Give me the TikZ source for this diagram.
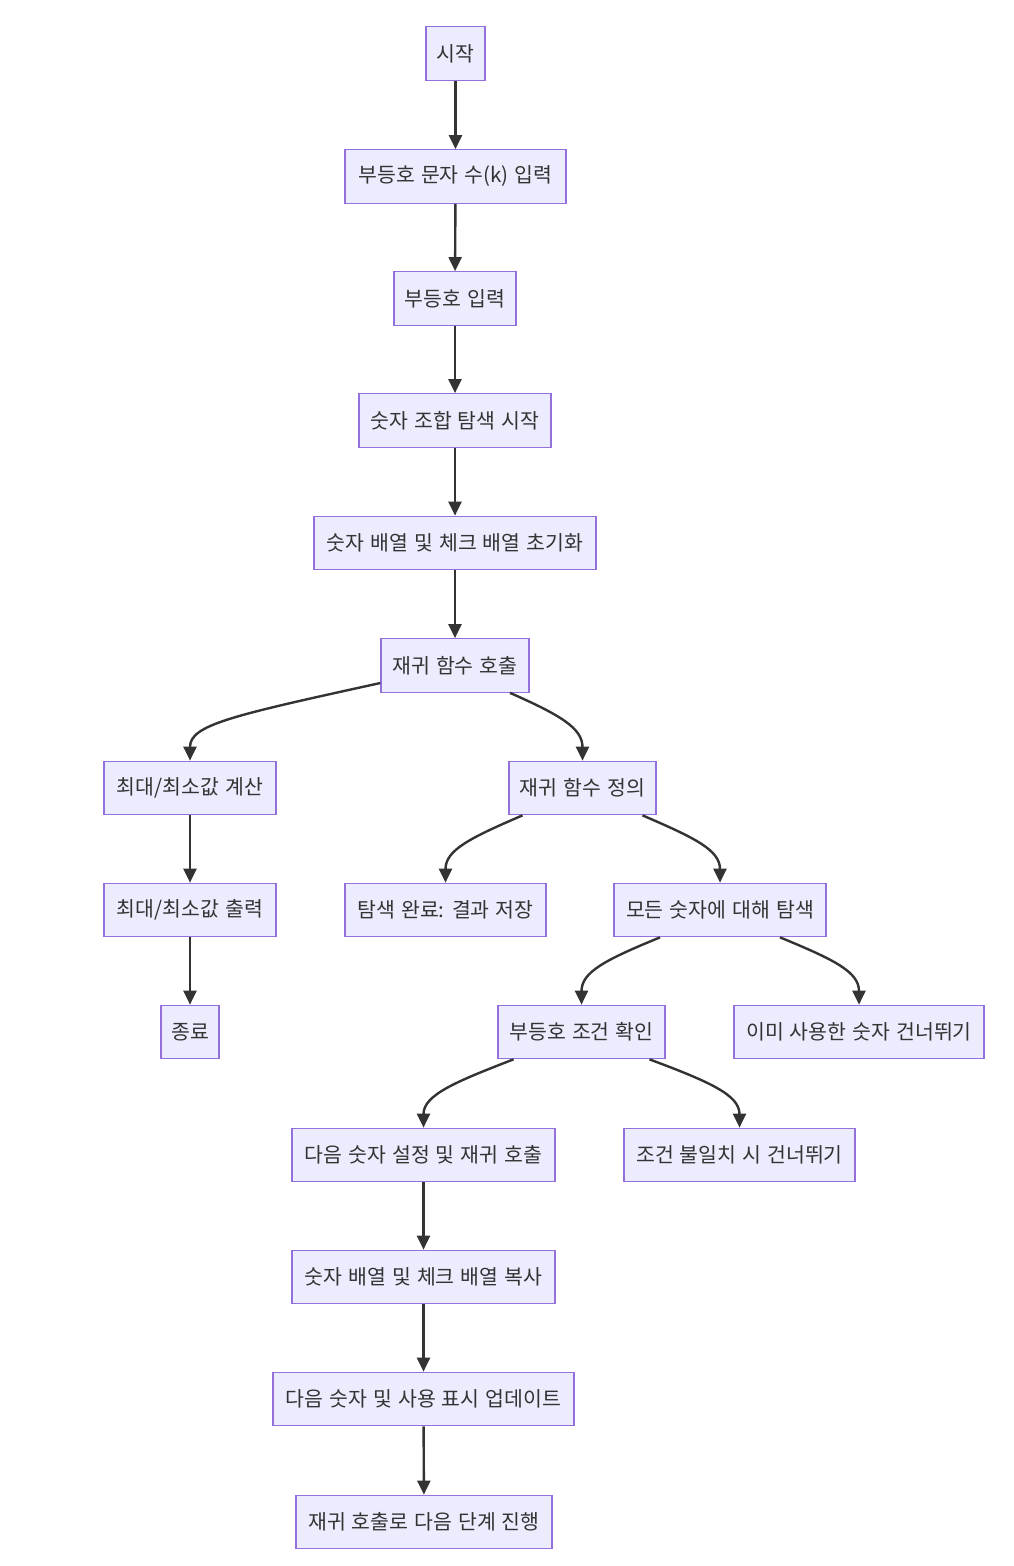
\documentclass[tikz,border=0pt]{standalone}
\usepackage{fontspec}
\setmainfont{Noto Sans CJK KR}
\usepackage{tikz}
\usetikzlibrary{positioning,arrows.meta}
\definecolor{boxfill}{HTML}{ECECFF}
\definecolor{boxline}{HTML}{9370DB}
\definecolor{edgeline}{HTML}{333333}
\newcommand{\blockfont}{\fontsize{20.5}{24}\selectfont\spaceskip=6pt plus 1pt\relax}
\begin{document}
\begin{tikzpicture}[x=1pt,y=-1pt,
    block/.style={rectangle, draw=boxline, fill=boxfill, line width=1.2pt, minimum height=53.5pt, inner xsep=10pt, text=edgeline, font=\blockfont},
    flow/.style={draw=edgeline, line width=2.4pt, -{Triangle[length=14pt,width=13pt]}}]
    \useasboundingbox (0,0) rectangle (1014,1566);
    \node[block, minimum width=59pt] (start) at (455.5,53.5) {시작};
    \node[block, minimum width=221pt] (readk) at (455.5,176.5) {부등호 문자 수(k) 입력};
    \node[block, minimum width=122pt] (readsign) at (455,298.5) {부등호 입력};
    \node[block, minimum width=192pt] (search) at (455,420.5) {숫자 조합 탐색 시작};
    \node[block, minimum width=282pt] (init) at (455,543) {숫자 배열 및 체크 배열 초기화};
    \node[block, minimum width=148pt] (call) at (455,665.5) {재귀 함수 호출};
    \node[block, minimum width=172pt] (minmax) at (190,788) {최대/최소값 계산};
    \node[block, minimum width=147pt] (define) at (582.5,788) {재귀 함수 정의};
    \node[block, minimum width=172pt] (print) at (190,910) {최대/최소값 출력};
    \node[block, minimum width=201pt] (done) at (445.5,910) {탐색 완료: 결과 저장};
    \node[block, minimum width=212pt] (every) at (720,910) {모든 숫자에 대해 탐색};
    \node[block, minimum width=58pt] (stop) at (190,1032) {종료};
    \node[block, minimum width=167pt] (check) at (581.5,1032) {부등호 조건 확인};
    \node[block, minimum width=250pt] (used) at (859,1032) {이미 사용한 숫자 건너뛰기};
    \node[block, minimum width=263pt] (next) at (423.5,1155) {다음 숫자 설정 및 재귀 호출};
    \node[block, minimum width=231pt] (fail) at (739.5,1155) {조건 불일치 시 건너뛰기};
    \node[block, minimum width=263pt] (copy) at (423.5,1277) {숫자 배열 및 체크 배열 복사};
    \node[block, minimum width=301pt] (update) at (423.5,1399) {다음 숫자 및 사용 표시 업데이트};
    \node[block, minimum width=256pt] (recurse) at (424,1522) {재귀 호출로 다음 단계 진행};
    % straight edges
    \draw[flow] (start) -- (readk);
    \draw[flow] (readk) -- (readsign);
    \draw[flow] (readsign) -- (search);
    \draw[flow] (search) -- (init);
    \draw[flow] (init) -- (call);
    \draw[flow] (minmax) -- (print);
    \draw[flow] (print) -- (stop);
    \draw[flow] (next) -- (copy);
    \draw[flow] (copy) -- (update);
    \draw[flow] (update) -- (recurse);
    % curved edges
    \draw[flow] ([yshift=-17.5pt]call.west) .. controls (230,716) and (190,725) .. (minmax.north);
    \draw[flow] ([xshift=55pt]call.south) .. controls (560,715) and (582.5,728) .. (define.north);
    \draw[flow] ([xshift=-60pt]define.south) .. controls (470,838) and (445.5,850) .. (done.north);
    \draw[flow] ([xshift=60pt]define.south) .. controls (695,838) and (720,850) .. (every.north);
    \draw[flow] ([xshift=-60pt]every.south) .. controls (605,960) and (581.5,972) .. (check.north);
    \draw[flow] ([xshift=60pt]every.south) .. controls (835,960) and (859,972) .. (used.north);
    \draw[flow] ([xshift=-68pt]check.south) .. controls (455,1082) and (423.5,1095) .. (next.north);
    \draw[flow] ([xshift=68pt]check.south) .. controls (710,1082) and (739.5,1095) .. (fail.north);
\end{tikzpicture}
\end{document}
